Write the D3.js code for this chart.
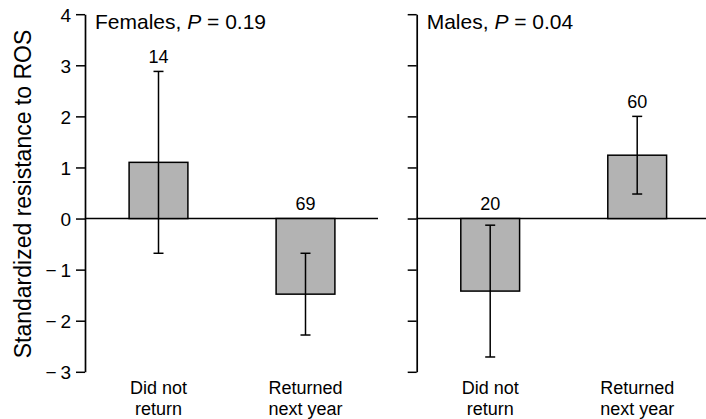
<!DOCTYPE html>
<html><head><meta charset="utf-8">
<script src="https://cdn.jsdelivr.net/npm/d3@7"></script>
<style>body{margin:0;background:#fff}svg{display:block}text{font-family:"Liberation Sans",Arial,sans-serif;fill:#000}</style>
</head><body><svg id="c" width="706" height="419"></svg>
<script>
const categories = ["Did not return", "Returned next year"];
const categoryLines = [["Did not", "return"], ["Returned", "next year"]];
const panels = ["Females", "Males"];
const pValues = ["0.19", "0.04"];
const femaleMeans = [1.10, -1.48];
const femaleErrors = [1.78, 0.80];
const femaleN = [14, 69];
const maleMeans = [-1.42, 1.24];
const maleErrors = [1.29, 0.76];
const maleN = [20, 60];
const yTicks = [-3, -2, -1, 0, 1, 2, 3, 4];

const means = [femaleMeans, maleMeans];
const errors = [femaleErrors, maleErrors];
const counts = [femaleN, maleN];

const svg = d3.select("#c");
const y = d3.scaleLinear().domain([-3, 4]).range([371.8, 14.2]);
const panelX = [85, 416.7];
const panelW = 294;
const zeroEnd = [378, 706];
const fmt = d => d < 0 ? "\u2212\u2009" + Math.abs(d) : String(d);

panels.forEach((name, pi) => {
  const x0 = panelX[pi];
  const x = d3.scaleBand().domain(categories).range([x0, x0 + panelW]).paddingInner(0.6).paddingOuter(0.3);
  const g = svg.append("g");

  const axis = d3.axisLeft(y).tickValues(yTicks).tickSize(9).tickSizeOuter(0).tickPadding(5)
    .tickFormat(pi === 0 ? fmt : () => "");
  const ag = g.append("g").attr("transform", `translate(${x0},0)`).call(axis);
  ag.attr("font-size", 19).attr("font-family", null);
  ag.select(".domain").attr("stroke", "#000").attr("stroke-width", 1.7);
  ag.selectAll(".tick line").attr("stroke", "#000").attr("stroke-width", 1.5);
  ag.selectAll(".tick text").attr("dy", "0.36em").attr("fill", "#000");

  g.append("line").attr("x1", x0).attr("x2", zeroEnd[pi]).attr("y1", y(0)).attr("y2", y(0))
    .attr("stroke", "#000").attr("stroke-width", 1.5);

  categories.forEach((c, i) => {
    const v = means[pi][i], e = errors[pi][i];
    const bx = x(c), bw = x.bandwidth(), cx = bx + bw / 2;
    g.append("rect").attr("x", bx).attr("width", bw)
      .attr("y", Math.min(y(v), y(0))).attr("height", Math.abs(y(v) - y(0)))
      .attr("fill", "#b3b3b3").attr("stroke", "#000").attr("stroke-width", 1.5);
    const hi = v + e, lo = v - e;
    g.append("line").attr("x1", cx).attr("x2", cx).attr("y1", y(hi)).attr("y2", y(lo))
      .attr("stroke", "#000").attr("stroke-width", 1.5);
    [hi, lo].forEach(ev => g.append("line").attr("x1", cx - 5).attr("x2", cx + 5)
      .attr("y1", y(ev)).attr("y2", y(ev)).attr("stroke", "#000").attr("stroke-width", 1.5));
    const topY = Math.min(y(0), y(hi), y(v));
    g.append("text").attr("text-anchor", "middle").attr("font-size", 18)
      .attr("x", cx).attr("y", topY - 8.5).text(counts[pi][i]);
    categoryLines[i].forEach((ln, li) => {
      g.append("text").attr("text-anchor", "middle").attr("font-size", 18)
        .attr("x", cx).attr("y", 393.5 + li * 21.8).text(ln);
    });
  });

  const tt = g.append("text").attr("font-size", 21).attr("x", x0 + 10).attr("y", 28.5);
  tt.append("tspan").text(name + ", ");
  tt.append("tspan").attr("font-style", "italic").text("P");
  tt.append("tspan").text(" = " + pValues[pi]);
});

svg.append("text").attr("text-anchor", "middle").attr("font-size", 23)
  .attr("transform", "translate(31,194) rotate(-90)").text("Standardized resistance to ROS");
</script></body></html>
